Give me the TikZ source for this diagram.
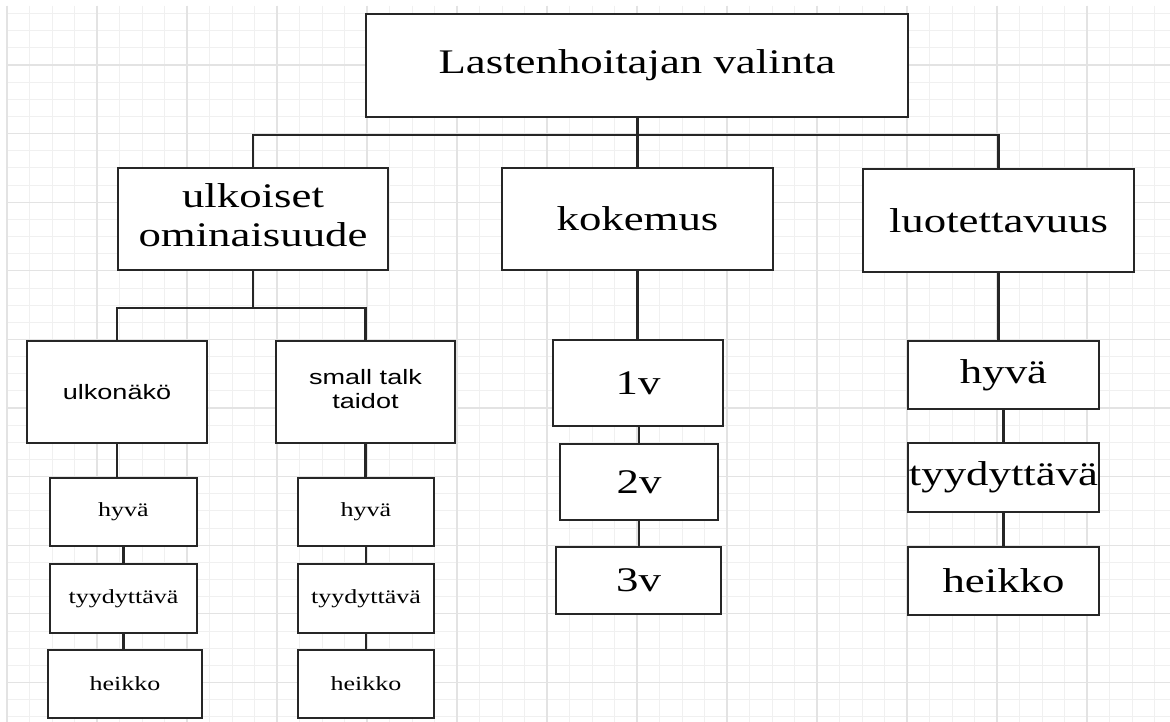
\documentclass[tikz,border=0pt]{standalone}
\usepackage{graphicx}
\usepackage{fontspec}
\setmainfont{Liberation Serif}
\setsansfont{Liberation Sans}
\usetikzlibrary{positioning}
\newcommand{\squash}[1]{\scalebox{1}[0.77]{#1}}

\begin{document}
\begin{tikzpicture}[x=0.02cm, y=-0.02cm,
  box/.style={draw=black!85, line width=1.3pt, fill=white, inner sep=0pt, align=center},
  bigtxt/.style={font=\fontsize{25.5}{29.5}\selectfont},
  smalltxt/.style={font=\fontsize{14.8}{17}\selectfont},
  sanstxt/.style={font=\sffamily\fontsize{15.4}{17.5}\selectfont},
  link/.style={draw=black!85, line width=1.3pt},
  minorline/.style={draw=gray!12, line width=0.5pt},
  majorline/.style={draw=gray!22, line width=0.6pt}]

  \useasboundingbox (0,0) rectangle (1170,722);
  \fill[white] (0,0) rectangle (1170,722);

  % ---- Grid ----
  \foreach \i in {0,...,51} {
    \pgfmathsetmacro\gx{7+22.5*\i}
    \draw[minorline] (\gx,6) -- (\gx,722);
  }
  \foreach \j in {0,...,41} {
    \pgfmathsetmacro\gy{13.55+17.15*\j}
    \draw[minorline] (7,\gy) -- (1170,\gy);
  }
  \foreach \i in {0,...,12} {
    \pgfmathsetmacro\gx{7+90*\i}
    \draw[majorline] (\gx,6) -- (\gx,722);
  }
  \foreach \j in {0,...,9} {
    \pgfmathsetmacro\gy{65+68.6*\j}
    \draw[majorline] (7,\gy) -- (1170,\gy);
  }

  % ---- Top level ----
  \node[box, bigtxt, minimum width=10.84cm, minimum height=2.06cm] (root) at (637,65.5) {\squash{Lastenhoitajan valinta}};

  % ---- Criteria ----
  \node[box, bigtxt, minimum width=5.4cm, minimum height=2.04cm] (ulk) at (253,219) {\squash{\begin{tabular}{@{}c@{}}ulkoiset\\ominaisuude\end{tabular}}};
  \node[box, bigtxt, minimum width=5.42cm, minimum height=2.04cm] (kok) at (637.5,219) {\squash{kokemus}};
  \node[box, bigtxt, minimum width=5.42cm, minimum height=2.06cm] (luo) at (998.5,220.5) {\squash{luotettavuus}};

  % ---- ulkoiset ominaisuude ----
  \node[box, sanstxt, minimum width=3.6cm, minimum height=2.04cm] (ulkn) at (117,392) {\squash{ulkonäkö}};
  \node[box, sanstxt, minimum width=3.58cm, minimum height=2.04cm] (small) at (365.5,392) {\squash{\begin{tabular}{@{}c@{}}small talk\\taidot\end{tabular}}};

  \node[box, smalltxt, minimum width=2.94cm, minimum height=1.36cm] (h1) at (123.5,512) {\squash{hyvä}};
  \node[box, smalltxt, minimum width=2.94cm, minimum height=1.38cm] (t1) at (123.5,598.5) {\squash{tyydyttävä}};
  \node[box, smalltxt, minimum width=3.08cm, minimum height=1.36cm] (k1) at (125,684) {\squash{heikko}};

  \node[box, smalltxt, minimum width=2.72cm, minimum height=1.36cm] (h2) at (366,512) {\squash{hyvä}};
  \node[box, smalltxt, minimum width=2.72cm, minimum height=1.38cm] (t2) at (366,598.5) {\squash{tyydyttävä}};
  \node[box, smalltxt, minimum width=2.72cm, minimum height=1.36cm] (k2) at (366,684) {\squash{heikko}};

  % ---- kokemus ----
  \node[box, bigtxt, minimum width=3.4cm, minimum height=1.72cm] (v1) at (638,383) {\squash{1v}};
  \node[box, bigtxt, minimum width=3.16cm, minimum height=1.52cm] (v2) at (639,482) {\squash{2v}};
  \node[box, bigtxt, minimum width=3.3cm, minimum height=1.34cm] (v3) at (638.5,580.5) {\squash{3v}};

  % ---- luotettavuus ----
  \node[box, bigtxt, minimum width=3.82cm, minimum height=1.36cm] (l1) at (1003.5,375) {\squash{hyvä}};
  \node[box, bigtxt, minimum width=3.82cm, minimum height=1.38cm] (l2) at (1003.5,477.5) {\squash{tyydyttävä}};
  \node[box, bigtxt, minimum width=3.82cm, minimum height=1.36cm] (l3) at (1003.5,581) {\squash{heikko}};

  % ---- Connectors ----
  \coordinate (bus) at (637,135);
  \coordinate (bus2) at (253,308);
  \draw[link] (root.south -| kok.north) -- (kok.north);
  \draw[link] (ulk.north) |- (bus) -| (luo.north);
  \draw[link] (ulk.south) -- (bus2);
  \draw[link] (ulkn.north) |- (bus2) -| (small.north);

  \draw[link] (ulkn.south) -- (ulkn.south |- h1.north);
  \draw[link] (h1.south) -- (t1.north);
  \draw[link] (t1.south) -- (t1.south |- k1.north);
  \draw[link] (small.south) -- (small.south |- h2.north);
  \draw[link] (h2.south) -- (t2.north);
  \draw[link] (t2.south) -- (k2.north);

  \draw[link] (kok.south) -- (kok.south |- v1.north);
  \draw[link] (v1.south -| v2.north) -- (v2.north);
  \draw[link] (v2.south) -- (v2.south |- v3.north);

  \draw[link] (luo.south) -- (luo.south |- l1.north);
  \draw[link] (l1.south) -- (l2.north);
  \draw[link] (l2.south) -- (l3.north);

\end{tikzpicture}
\end{document}
